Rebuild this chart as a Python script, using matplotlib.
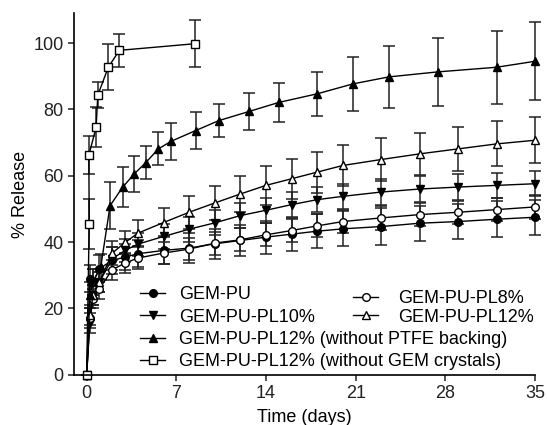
import numpy as np
import matplotlib
matplotlib.use("Agg")
import matplotlib.pyplot as plt
from matplotlib.lines import Line2D

plt.rcParams['font.family'] = ['Liberation Sans', 'DejaVu Sans']
plt.rcParams['font.size'] = 13

# time points (days)
t = [0, 0.25, 0.5, 1, 2, 3, 4, 6, 8, 10, 12, 14, 16, 18, 20, 23, 26, 29, 32, 35]

gem_pu = [0, 29, 28, 32, 34.5, 35.5, 36.5, 37.5, 38.2, 39.5, 40.5, 41.5, 42.4, 43.3, 44.0, 44.7, 45.7, 46.2, 46.9, 47.5]
gem_pu_err = [0, 4, 4, 4, 4, 4, 4, 4.2, 4.4, 4.6, 4.8, 5, 5, 5.2, 5.3, 5.5, 5.3, 5.4, 5.4, 5.3]

pl8 = [0, 17, 23, 26, 31.7, 33.7, 35.2, 36.7, 37.9, 39.7, 40.7, 42.2, 43.5, 44.9, 46.2, 47.3, 48.3, 49.0, 49.8, 50.6]
pl8_err = [0, 3, 3, 3, 3, 3, 3.2, 3.3, 3.4, 3.5, 3.5, 3.5, 3.5, 3.5, 3.5, 3.5, 3.5, 3.5, 3.5, 3.5]

pl10 = [0, 15.5, 24, 28, 35, 37.5, 39.4, 41.7, 43.9, 45.8, 48.0, 49.6, 51.3, 52.8, 53.8, 55.1, 56.0, 56.6, 57.1, 57.6]
pl10_err = [0, 3, 3, 3, 3.5, 3.5, 3.5, 3.8, 3.8, 3.8, 3.8, 3.8, 3.8, 3.8, 3.8, 3.8, 3.8, 3.8, 3.8, 3.8]

pl12 = [0, 18, 24, 28, 36.7, 39.9, 42.7, 45.9, 49.0, 51.8, 54.5, 57.1, 59.1, 61.1, 63.1, 64.9, 66.6, 68.1, 69.6, 70.7]
pl12_err = [0, 3, 3, 3, 3.5, 3.5, 4, 4.5, 5, 5.2, 5.5, 5.8, 6, 6.2, 6.3, 6.4, 6.4, 6.6, 6.8, 7]

# GEM-PU-PL12% without PTFE backing
t_ptfe = [0, 0.25, 0.5, 1.1, 1.83, 2.8, 3.7, 4.6, 5.6, 6.6, 8.5, 10.3, 12.7, 15, 18, 20.8, 23.6, 27.4, 32, 35]
ptfe = [0, 24, 28, 32.5, 51.0, 56.5, 60.5, 63.9, 68.1, 70.4, 73.6, 76.6, 79.4, 82.1, 84.7, 87.7, 89.8, 91.3, 92.7, 94.5]
ptfe_err = [0, 4, 4, 4, 7, 6, 5.5, 5, 5, 5.5, 5.5, 5, 5.5, 5.8, 6.6, 8.2, 9.3, 10.2, 11, 11.8]

# GEM-PU-PL12% without GEM crystals
t_cry = [0, 0.2, 0.17, 0.74, 0.87, 1.7, 2.56, 8.47]
cry = [0, 45.5, 66.2, 74.6, 84.3, 92.8, 97.8, 99.8]
cry_err = [0, 7.5, 5.8, 6, 4, 7, 5, 7]

fig = plt.figure(figsize=(5.47, 4.25), dpi=100)
ax = fig.add_axes([0.135, 0.118, 0.843, 0.851])

ecol = '#222222'
common = dict(color='black', ecolor=ecol, elinewidth=1.1, capsize=4, capthick=1.1,
              linewidth=1.0, markersize=5.5, clip_on=False)

ax.errorbar(t, gem_pu, yerr=gem_pu_err, marker='o', mfc='black', mec='black', **common)
ax.errorbar(t, pl10, yerr=pl10_err, marker='v', mfc='black', mec='black', **common)
ax.errorbar(t, pl8, yerr=pl8_err, marker='o', mfc='white', mec='black', **common)
ax.errorbar(t, pl12, yerr=pl12_err, marker='^', mfc='white', mec='black', **common)
ax.errorbar(t_ptfe, ptfe, yerr=ptfe_err, marker='^', mfc='black', mec='black', **common)
ax.errorbar(t_cry, cry, yerr=cry_err, marker='s', mfc='white', mec='black', **common)

ax.set_xlim(-1, 35)
ax.set_ylim(0, 109)
ax.set_xticks([0, 7, 14, 21, 28, 35])
ax.set_yticks([0, 20, 40, 60, 80, 100])
ax.spines['top'].set_visible(False)
ax.spines['right'].set_visible(False)
ax.spines['left'].set_linewidth(1.2)
ax.spines['bottom'].set_linewidth(1.2)
ax.tick_params(direction='out', length=4, width=1.1, colors='#222222', labelcolor='#222222')
ax.set_xlabel('Time (days)', labelpad=5)
ax.set_ylabel('% Release', labelpad=3)

def handle(marker, face):
    return Line2D([0], [0], color='black', lw=1.0, marker=marker, mfc=face, mec='black', markersize=5.5)

leg1 = ax.legend([handle('o', 'black'), handle('v', 'black'), handle('^', 'black'), handle('s', 'white')],
                 ['GEM-PU', 'GEM-PU-PL10%', 'GEM-PU-PL12% (without PTFE backing)',
                  'GEM-PU-PL12% (without GEM crystals)'],
                 loc='upper left', bbox_to_anchor=(0.128, 0.265), frameon=False,
                 handlelength=1.4, handletextpad=0.75, labelspacing=0.3, borderaxespad=0)
ax.add_artist(leg1)
ax.legend([handle('o', 'white'), handle('^', 'white')],
          ['GEM-PU-PL8%', 'GEM-PU-PL12%'],
          loc='upper left', bbox_to_anchor=(0.59, 0.255), frameon=False,
          handlelength=1.4, handletextpad=1.1, labelspacing=0.1, borderaxespad=0)

fig.savefig('out.png', dpi=100)
